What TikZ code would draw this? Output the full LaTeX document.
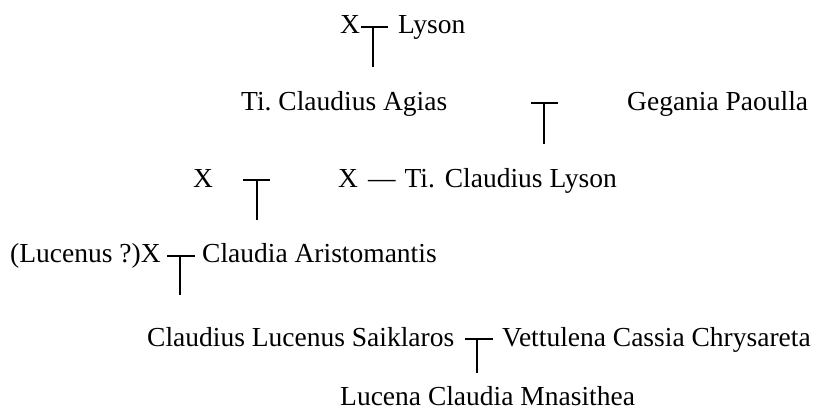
\documentclass[tikz,border=0pt]{standalone}
\usepackage{fontspec}
\setmainfont{Liberation Serif}
\begin{document}
\begin{tikzpicture}[x=1pt,y=-1pt,
  nm/.style={anchor=base west,inner sep=0pt,font=\fontsize{27.5}{33}\selectfont},
  bar/.style={line width=1.4pt},
  stem/.style={line width=1.8pt}]
\useasboundingbox (0,0) rectangle (839,415);
% row 1
\node[nm] (x1) at (340,33) {X};
\node[nm] (lyson) at (398,33) {Lyson};
\coordinate (b1l) at (361,27); \coordinate (b1r) at (388,27);
\coordinate (b1m) at (373,27); \coordinate (b1e) at (373,67);
\draw[bar] (b1l) -- (b1r); \draw[stem] (b1m) -- (b1e);
% row 2
\node[nm] (agias) at (241,110) {Ti.\ Claudius Agias};
\node[nm] (gegania) at (627,110) {Gegania Paoulla};
\coordinate (b2l) at (531,103); \coordinate (b2r) at (558,103);
\coordinate (b2m) at (544,103); \coordinate (b2e) at (544,144);
\draw[bar] (b2l) -- (b2r); \draw[stem] (b2m) -- (b2e);
% row 3
\node[nm] (x3) at (193,187) {X};
\node[nm] (lyson2) at (338,187) {X\hspace{10pt}---\hspace{9pt}Ti.\hspace{10pt}Claudius Lyson};
\coordinate (b3l) at (243,180); \coordinate (b3r) at (270,180);
\coordinate (b3m) at (257,180); \coordinate (b3e) at (257,220);
\draw[bar] (b3l) -- (b3r); \draw[stem] (b3m) -- (b3e);
% row 4
\node[nm] (lucenus) at (10,262) {(Lucenus ?)X};
\node[nm] (aristo) at (202,262) {Claudia Aristomantis};
\coordinate (b4l) at (167,256); \coordinate (b4r) at (195,256);
\coordinate (b4m) at (180,256); \coordinate (b4e) at (180,295);
\draw[bar] (b4l) -- (b4r); \draw[stem] (b4m) -- (b4e);
% row 5
\node[nm] (saik) at (147,346) {Claudius Lucenus Saiklaros};
\node[nm] (vett) at (502,346) {Vettulena Cassia Chrysareta};
\coordinate (b5l) at (465,339); \coordinate (b5r) at (493,339);
\coordinate (b5m) at (477,339); \coordinate (b5e) at (477,373);
\draw[bar] (b5l) -- (b5r); \draw[stem] (b5m) -- (b5e);
% row 6
\node[nm] (mnas) at (340,405) {Lucena Claudia Mnasithea};
\end{tikzpicture}
\end{document}
